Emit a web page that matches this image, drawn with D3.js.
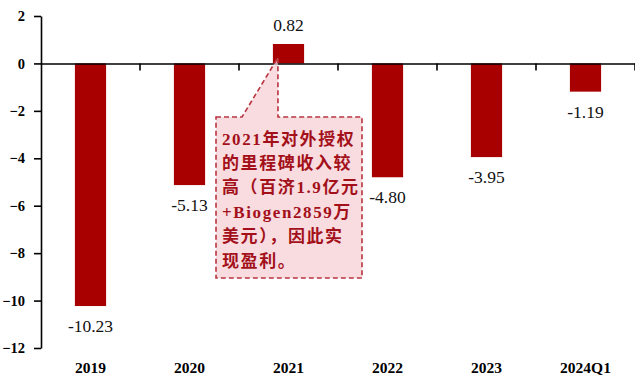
<!DOCTYPE html>
<html>
<head>
<meta charset="utf-8">
<script src="https://cdn.jsdelivr.net/npm/d3@7/dist/d3.min.js"></script>
<style>
  html, body { margin: 0; padding: 0; background: #fff; }
  svg { display: block; }
</style>
</head>
<body>
<svg id="chart" width="635" height="378"></svg>
<script>
// Net profit by period (unit: 亿元)
const categories = ["2019", "2020", "2021", "2022", "2023", "2024Q1"];
const values = [-10.23, -5.13, 0.82, -4.80, -3.95, -1.19];
const valueLabels = ["-10.23", "-5.13", "0.82", "-4.80", "-3.95", "-1.19"];
const yTicks = [2, 0, -2, -4, -6, -8, -10, -12];
const noteLines = [
  "2021年对外授权",
  "的里程碑收入较",
  "高（百济1.9亿元",
  "+Biogen2859万",
  "美元），因此实",
  "现盈利。"
];
const noteCategory = "2021";

const serif = "'Liberation Serif', 'Times New Roman', Tinos, serif";
const svg = d3.select("#chart");
const plotLeft = 41, plotRight = 635, plotTop = 16, plotBottom = 348;
const barColor = "#a80000";

const x = d3.scaleBand().domain(categories).range([plotLeft, plotRight]).padding(0);
const y = d3.scaleLinear().domain([-12, 2]).range([plotBottom, plotTop]);
const barW = x.bandwidth() * 0.315;

// bars
svg.append("g").selectAll("rect")
  .data(values)
  .join("rect")
  .attr("x", (d, i) => x(categories[i]) + (x.bandwidth() - barW) / 2)
  .attr("y", d => y(Math.max(0, d)))
  .attr("width", barW)
  .attr("height", d => Math.abs(y(d) - y(0)))
  .attr("fill", barColor);

// y axis
const yAxis = svg.append("g")
  .attr("transform", `translate(${plotLeft},0)`)
  .call(d3.axisLeft(y).tickValues(yTicks).tickFormat(d3.format("d")).tickSize(7).tickSizeOuter(0).tickPadding(9));
yAxis.select(".domain").attr("stroke", "#000").attr("stroke-width", 1.6);
yAxis.selectAll(".tick line").attr("stroke", "#000").attr("stroke-width", 1.6);
yAxis.selectAll(".tick text")
  .attr("font-family", serif)
  .attr("font-weight", "bold")
  .attr("font-size", 14.5)
  .attr("fill", "#000");

// zero line with category separators
const zeroAxis = svg.append("g")
  .attr("transform", `translate(0,${y(0)})`)
  .call(d3.axisBottom(x).tickSize(0).tickFormat(""));
zeroAxis.select(".domain").attr("stroke", "#000").attr("stroke-width", 1.6);
zeroAxis.selectAll(".tick").remove();
zeroAxis.selectAll("line.sep")
  .data(categories)
  .join("line")
  .attr("class", "sep")
  .attr("x1", d => x(d) + x.bandwidth())
  .attr("x2", d => x(d) + x.bandwidth())
  .attr("y1", 0)
  .attr("y2", 7)
  .attr("stroke", "#000")
  .attr("stroke-width", 1.6);

// category labels
svg.append("g").selectAll("text")
  .data(categories)
  .join("text")
  .attr("x", d => x(d) + x.bandwidth() / 2)
  .attr("y", 373)
  .attr("text-anchor", "middle")
  .attr("font-family", serif)
  .attr("font-weight", "bold")
  .attr("font-size", 15.5)
  .attr("fill", "#000")
  .text(d => d);

// value labels
svg.append("g").selectAll("text")
  .data(values)
  .join("text")
  .attr("x", (d, i) => x(categories[i]) + x.bandwidth() / 2)
  .attr("y", d => d >= 0 ? y(d) - 13 : y(d) + 26)
  .attr("text-anchor", "middle")
  .attr("font-family", serif)
  .attr("font-size", 17.5)
  .attr("fill", "#111")
  .text((d, i) => valueLabels[i]);

// callout pointing at the 2021 bar
const ni = categories.indexOf(noteCategory);
const tipX = x(noteCategory) + (x.bandwidth() - barW) / 2 + 5;
const tipY = y(values[ni]) + (y(0) - y(values[ni])) * 0.7;
const bx0 = 216, bx1 = 362, by0 = 117, by1 = 278;
const baseA = 242, baseB = 278;
const calloutPath = d3.path();
calloutPath.moveTo(bx0, by0);
calloutPath.lineTo(baseA, by0);
calloutPath.lineTo(tipX, tipY);
calloutPath.lineTo(baseB, by0);
calloutPath.lineTo(bx1, by0);
calloutPath.lineTo(bx1, by1);
calloutPath.lineTo(bx0, by1);
calloutPath.closePath();

svg.append("path")
  .attr("d", calloutPath.toString())
  .attr("fill", "rgba(246, 208, 214, 0.75)")
  .attr("stroke", "#b8343f")
  .attr("stroke-width", 1.6)
  .attr("stroke-dasharray", "5,3");

svg.append("g").selectAll("text")
  .data(noteLines)
  .join("text")
  .attr("x", 222)
  .attr("y", (d, i) => 144.5 + i * 24.4)
  .attr("font-family", "'Liberation Serif', 'Times New Roman', 'Noto Sans CJK SC', serif")
  .attr("font-weight", "bold")
  .attr("font-size", 17)
  .attr("letter-spacing", 1.6)
  .attr("fill", "#a3101a")
  .text(d => d);
</script>
</body>
</html>
